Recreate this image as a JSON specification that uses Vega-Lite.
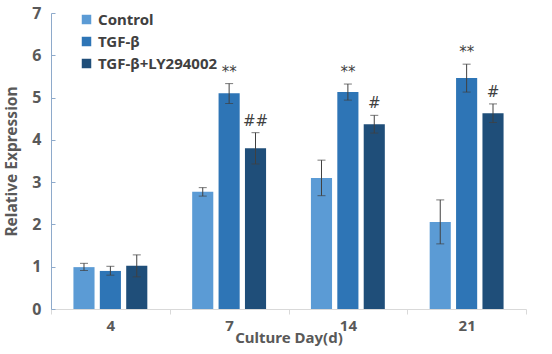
{
  "$schema": "https://vega.github.io/schema/vega-lite/v6.json",
  "width": 475,
  "height": 296,
  "autosize": {"type": "none"},
  "padding": {"left": 51, "top": 13, "right": 26, "bottom": 45},
  "background": "white",
  "config": {
    "view": {"stroke": null},
    "font": "Noto Sans"
  },
  "data": {
    "values": [
      {"day": "4", "group": "Control", "value": 0.99, "lo": 0.91, "hi": 1.08, "sig": ""},
      {"day": "4", "group": "TGF-β", "value": 0.90, "lo": 0.80, "hi": 1.01, "sig": ""},
      {"day": "4", "group": "TGF-β+LY294002", "value": 1.02, "lo": 0.76, "hi": 1.28, "sig": ""},
      {"day": "7", "group": "Control", "value": 2.77, "lo": 2.67, "hi": 2.87, "sig": ""},
      {"day": "7", "group": "TGF-β", "value": 5.10, "lo": 4.86, "hi": 5.33, "sig": "**"},
      {"day": "7", "group": "TGF-β+LY294002", "value": 3.80, "lo": 3.43, "hi": 4.17, "sig": "##"},
      {"day": "14", "group": "Control", "value": 3.10, "lo": 2.68, "hi": 3.52, "sig": ""},
      {"day": "14", "group": "TGF-β", "value": 5.13, "lo": 4.94, "hi": 5.32, "sig": "**"},
      {"day": "14", "group": "TGF-β+LY294002", "value": 4.37, "lo": 4.16, "hi": 4.58, "sig": "#"},
      {"day": "21", "group": "Control", "value": 2.06, "lo": 1.54, "hi": 2.58, "sig": ""},
      {"day": "21", "group": "TGF-β", "value": 5.46, "lo": 5.13, "hi": 5.79, "sig": "**"},
      {"day": "21", "group": "TGF-β+LY294002", "value": 4.63, "lo": 4.41, "hi": 4.85, "sig": "#"}
    ]
  },
  "encoding": {
    "x": {
      "field": "day",
      "type": "nominal",
      "sort": ["4", "7", "14", "21"],
      "scale": {"paddingInner": 0, "paddingOuter": 0},
      "axis": {
        "title": "Culture Day(d)",
        "labelAngle": 0,
        "labelFont": "Noto Sans",
        "labelFontWeight": "bold",
        "labelFontSize": 15,
        "labelColor": "#595959",
        "labelPadding": 4,
        "titleFont": "Noto Sans",
        "titleFontWeight": "bold",
        "titleFontSize": 15,
        "titleColor": "#595959",
        "titlePadding": -3,
        "domainColor": "#d9d9d9",
        "tickColor": "#d9d9d9",
        "tickBand": "extent",
        "tickSize": 5
      }
    },
    "xOffset": {
      "field": "group",
      "type": "nominal",
      "sort": ["Control", "TGF-β", "TGF-β+LY294002"],
      "scale": {"paddingInner": 0.2, "paddingOuter": 0.85}
    }
  },
  "layer": [
    {
      "mark": {"type": "bar"},
      "encoding": {
        "y": {
          "field": "value",
          "type": "quantitative",
          "scale": {"domain": [0, 7]},
          "axis": {
            "title": "Relative Expression",
            "values": [0, 1, 2, 3, 4, 5, 6, 7],
            "grid": false,
            "labelFont": "Noto Sans",
            "labelFontWeight": "bold",
            "labelFontSize": 16,
            "labelColor": "#595959",
            "labelPadding": 14,
            "titleFont": "Noto Sans",
            "titleFontWeight": "bold",
            "titleFontSize": 15.5,
            "titleColor": "#595959",
            "titlePadding": 12,
            "domainColor": "#8eaacb",
            "tickColor": "#8eaacb",
            "tickSize": -4
          }
        },
        "color": {
          "field": "group",
          "type": "nominal",
          "sort": ["Control", "TGF-β", "TGF-β+LY294002"],
          "scale": {
            "domain": ["Control", "TGF-β", "TGF-β+LY294002"],
            "range": ["#5b9bd5", "#2e75b6", "#1f4e79"]
          },
          "legend": {
            "title": null,
            "orient": "none",
            "legendX": 28,
            "legendY": -1,
            "symbolType": "square",
            "symbolSize": 90,
            "symbolStrokeWidth": 0,
            "labelFont": "Noto Sans",
            "labelFontWeight": "bold",
            "labelFontSize": 15,
            "labelColor": "#404040",
            "rowPadding": 6,
            "labelOffset": 4
          }
        }
      }
    },
    {
      "mark": {"type": "rule", "color": "#404040", "strokeWidth": 1},
      "encoding": {
        "y": {"field": "lo", "type": "quantitative"},
        "y2": {"field": "hi"}
      }
    },
    {
      "mark": {"type": "tick", "color": "#404040", "thickness": 1, "size": 8, "orient": "horizontal"},
      "encoding": {"y": {"field": "hi", "type": "quantitative"}}
    },
    {
      "mark": {"type": "tick", "color": "#404040", "thickness": 1, "size": 8, "orient": "horizontal"},
      "encoding": {"y": {"field": "lo", "type": "quantitative"}}
    },
    {
      "mark": {"type": "text", "baseline": "bottom", "dy": -4, "fontSize": 15, "color": "#404040", "font": "DejaVu Sans"},
      "encoding": {
        "y": {"field": "hi", "type": "quantitative"},
        "text": {"field": "sig"}
      }
    }
  ]
}
